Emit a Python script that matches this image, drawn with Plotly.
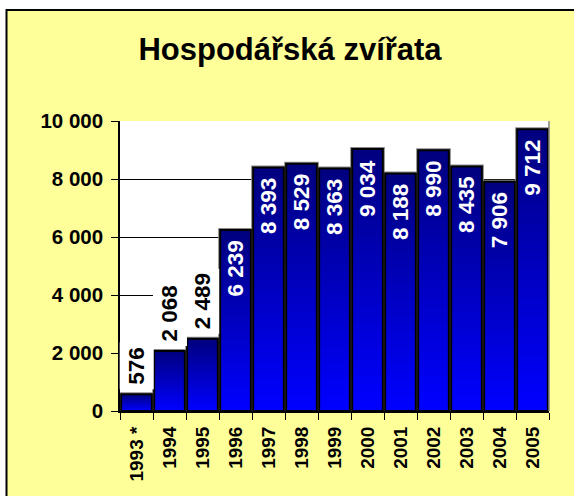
import plotly.graph_objects as go

# ---- data ----
years = ["1993 *", "1994", "1995", "1996", "1997", "1998", "1999",
         "2000", "2001", "2002", "2003", "2004", "2005"]
values = [576, 2068, 2489, 6239, 8393, 8529, 8363, 9034, 8188, 8990, 8435, 7906, 9712]
y_ticks = [0, 2000, 4000, 6000, 8000, 10000]
title_text = "Hospodářská zvířata"

# ---- style ----
FONT = "Liberation Sans, Arial, sans-serif"
YELLOW = "#FFFF99"
TOP_RGB = (0, 0, 128)
BOT_RGB = (0, 0, 255)
N_LAYERS = 30
OUTSIDE_LIMIT = 3000
W, H = 574, 496
ML, MR, MT, MB = 120, 25, 121, 85
PW, PH = W - ML - MR, H - MT - MB

fig = go.Figure()

# soft gray outer edge of bars
fig.add_trace(go.Bar(
    x=years, y=values,
    marker=dict(color="rgba(0,0,0,0)", line=dict(color="#8a8a8a", width=4)),
    hoverinfo="skip", showlegend=False,
))

# gradient bars: overlaid layers from full height (dark) to short (bright)
for k in range(N_LAYERS):
    t = k / (N_LAYERS - 1)
    r = round(TOP_RGB[0] + (BOT_RGB[0] - TOP_RGB[0]) * t)
    g = round(TOP_RGB[1] + (BOT_RGB[1] - TOP_RGB[1]) * t)
    b = round(TOP_RGB[2] + (BOT_RGB[2] - TOP_RGB[2]) * t)
    frac = (N_LAYERS - k) / N_LAYERS
    fig.add_trace(go.Bar(
        x=years, y=[v * frac for v in values],
        marker=dict(color=f"rgb({r},{g},{b})", line=dict(width=0)),
        hoverinfo="skip", showlegend=False,
    ))

# black outline on top
fig.add_trace(go.Bar(
    x=years, y=values,
    marker=dict(color="rgba(0,0,0,0)", line=dict(color="black", width=2)),
    showlegend=False,
))

def fmt(v):
    return f"{v:,}".replace(",", " ")

annotations = []
for i, v in enumerate(values):
    if v < OUTSIDE_LIMIT:
        annotations.append(dict(
            x=i, y=v, xref="x", yref="y", text=fmt(v), textangle=-90,
            showarrow=False, yanchor="bottom", yshift=4,
            font=dict(family=FONT, size=22.5, color="black", weight="bold"),
            bgcolor="white", borderpad=4,
        ))
    else:
        annotations.append(dict(
            x=i, y=v, xref="x", yref="y", text=fmt(v), textangle=-90,
            showarrow=False, yanchor="top", yshift=-9,
            font=dict(family=FONT, size=22.5, color="white", weight="bold"),
        ))

shapes = [
    # outer yellow frame
    dict(type="rect", xref="paper", yref="paper",
         x0=(6.5 - ML) / PW, x1=(W + 20 - ML) / PW,
         y0=(MT + PH - H - 20) / PH, y1=(MT + PH - 10) / PH,
         fillcolor=YELLOW, line=dict(color="black", width=2), layer="below"),
    # white plot area
    dict(type="rect", xref="paper", yref="paper", x0=0, x1=1, y0=0, y1=1,
         fillcolor="white", line=dict(width=0), layer="below"),
    # gray right border of plot area
    dict(type="line", xref="paper", yref="paper", x0=1, x1=1, y0=0, y1=1,
         line=dict(color="#808080", width=1.5)),
]

fig.update_layout(
    width=W, height=H,
    margin=dict(l=ML, r=MR, t=MT, b=MB),
    paper_bgcolor="white", plot_bgcolor="white",
    barmode="overlay", bargap=0.07,
    separators=", ",
    title=dict(text=title_text, x=290 / W, xanchor="center",
               y=1 - 49.5 / H, yanchor="middle", yref="container",
               font=dict(family=FONT, size=31, color="black", weight="bold")),
    annotations=annotations,
    shapes=shapes,
    showlegend=False,
)

fig.update_yaxes(
    range=[0, 10000], tickvals=y_ticks, tickformat=",d",
    showgrid=True, gridcolor="black", gridwidth=1,
    showline=True, linecolor="black", linewidth=1.5,
    ticks="outside", ticklen=7, tickcolor="black", tickwidth=1,
    ticklabelstandoff=4,
    tickfont=dict(family=FONT, size=20.5, color="black", weight="bold"),
    zeroline=False, fixedrange=True,
)
fig.update_xaxes(
    type="category", tickangle=-90, range=[-0.5, len(years) - 0.5],
    showline=True, linecolor="black", linewidth=2,
    ticks="outside", ticklen=7, tickcolor="black", tickwidth=1,
    tickson="boundaries", ticklabelstandoff=6,
    tickfont=dict(family=FONT, size=19, color="black", weight="bold"),
    showgrid=False, fixedrange=True,
)

fig.write_html(
    "out.html",
    config={"displayModeBar": False},
    post_script="document.body.style.margin='0';document.body.style.padding='0';",
)
